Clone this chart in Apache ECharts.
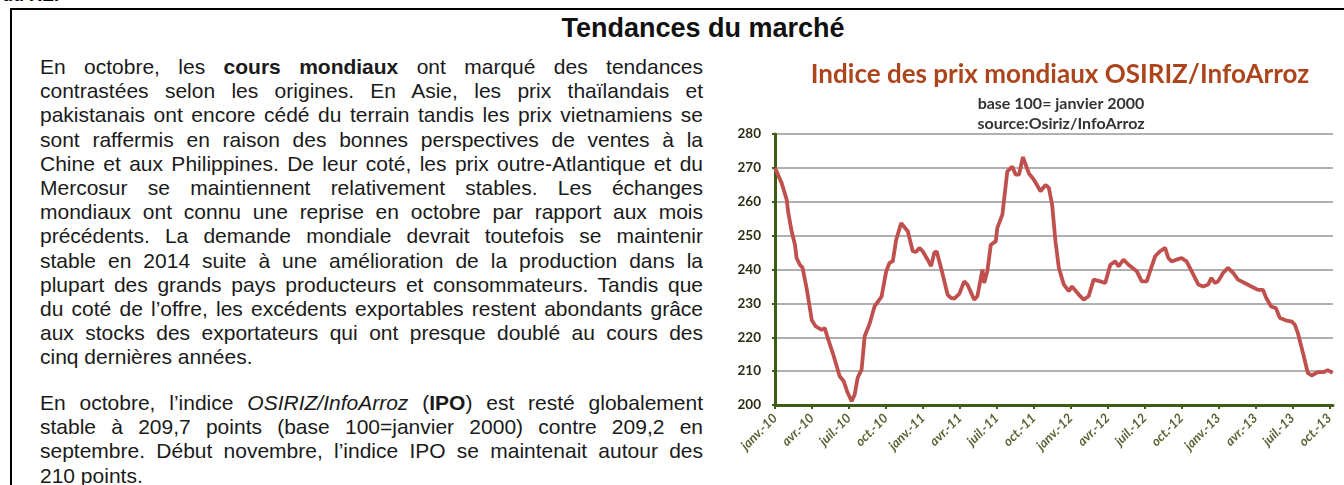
<!DOCTYPE html>
<html lang="fr">
<head>
<meta charset="utf-8">
<script src="https://cdn.jsdelivr.net/npm/echarts@6/dist/echarts.min.js"></script>
<style>
  html, body { margin:0; padding:0; background:#fff; }
  body { width:1344px; height:485px; overflow:hidden; position:relative; font-family:"Liberation Sans", Arial, sans-serif; }
  #frame { position:absolute; left:10px; top:8px; width:1400px; height:600px; border-top:2px solid #000; border-left:2px solid #000; }
  #cut { position:absolute; left:2px; top:-15px; font:bold 18px "Liberation Sans", Arial, sans-serif; color:#000; }
  #head { position:absolute; left:403px; width:600px; top:13px; text-align:center; font:bold 27px "Liberation Sans", Arial, sans-serif; color:#111; }
  .txt { position:absolute; left:40px; width:663px; font-size:21px; color:#1a1a1a; line-height:24.2px; }
  .txt div { white-space:nowrap; text-align:justify; text-align-last:justify; }
  .txt div.last { text-align:left; text-align-last:left; }
  #p1 { top:55px; }
  #p2 { top:391px; }
  #chart { position:absolute; left:720px; top:0; width:624px; height:485px; }
</style>
</head>
<body>
<div id="frame"></div>
<div id="cut">du RE.</div>
<div id="head">Tendances du marché</div>
<div class="txt" id="p1">
  <div>En octobre, les <b>cours mondiaux</b> ont marqué des tendances</div>
  <div>contrastées selon les origines. En Asie, les prix thaïlandais et</div>
  <div>pakistanais ont encore cédé du terrain tandis les prix vietnamiens se</div>
  <div>sont raffermis en raison des bonnes perspectives de ventes à la</div>
  <div>Chine et aux Philippines. De leur coté, les prix outre-Atlantique et du</div>
  <div>Mercosur se maintiennent relativement stables. Les échanges</div>
  <div>mondiaux ont connu une reprise en octobre par rapport aux mois</div>
  <div>précédents. La demande mondiale devrait toutefois se maintenir</div>
  <div>stable en 2014 suite à une amélioration de la production dans la</div>
  <div>plupart des grands pays producteurs et consommateurs. Tandis que</div>
  <div>du coté de l’offre, les excédents exportables restent abondants grâce</div>
  <div>aux stocks des exportateurs qui ont presque doublé au cours des</div>
  <div class="last">cinq dernières années.</div>
</div>
<div class="txt" id="p2">
  <div>En octobre, l’indice <i>OSIRIZ/InfoArroz</i> (<b>IPO</b>) est resté globalement</div>
  <div>stable à 209,7 points (base 100=janvier 2000) contre 209,2 en</div>
  <div>septembre. Début novembre, l’indice IPO se maintenait autour des</div>
  <div class="last">210 points.</div>
</div>
<div id="chart"></div>
<script>
// Month offsets from janv. 2010 (0) and index values
const months = [0,0.54,0.95,1.08,1.35,1.62,1.75,2.02,2.24,2.56,2.99,3.31,3.80,4.04,4.28,4.77,5.25,5.58,5.90,6.22,6.47,6.71,7.03,7.28,7.68,8.08,8.65,9.03,9.30,9.56,9.84,10.24,10.37,10.78,11.18,11.46,11.72,11.99,12.39,12.67,12.93,13.12,13.48,14.01,14.28,14.55,14.96,15.36,15.63,16.17,16.43,16.84,16.98,17.24,17.52,17.92,18.05,18.46,18.86,19.26,19.54,19.81,20.13,20.62,21.02,21.56,21.96,22.23,22.50,22.77,23.04,23.44,23.85,24.11,24.66,25.06,25.46,25.87,26.41,26.81,27.22,27.62,27.89,28.29,28.70,29.37,29.77,30.18,30.45,30.86,31.26,31.67,31.93,32.20,32.60,33.01,33.41,33.82,34.36,34.76,35.17,35.43,35.71,35.97,36.38,36.78,37.19,37.59,38.13,38.67,39.21,39.61,39.88,40.28,40.66,40.99,41.47,41.96,42.20,42.44,42.93,43.25,43.57,44.06,44.55,44.87,45.27];
const values = [270,265.5,260.6,256.7,251.3,247.3,243.4,241.4,240.5,234.6,225,223.2,222.2,222.7,219.8,214.4,208.5,207,203.6,201.1,203.1,208,210.5,220.3,224,229.1,232,239.5,242,242.4,248.8,253.7,254.2,251.3,245.4,245.2,246.4,245.4,242.9,241,244.9,245.4,240.5,232.6,231.6,231.4,232.8,236.5,235.5,231.1,232.1,240,236,239.5,247.3,248.3,252.3,256.2,269,270.4,268,268,273.2,268.3,266.5,263.1,265,264.1,259.1,248.3,240.5,235.6,233.6,235,232.6,231.1,232.1,237,236.5,236,241.4,242.4,240.9,242.9,241.4,239.5,236.5,236.5,239.5,243.9,245.4,246.4,243.4,242.4,242.9,243.4,242.4,239.5,235.6,235,235.6,237.5,236,236.5,239,240.5,239,237,236,235,234,234,231.6,229.1,228.6,225.7,225,224.6,223.7,221.3,214.4,209.5,208.7,209.7,209.7,210.3,209.5];
const tickLabels = ['janv.-10','avr.-10','juil.-10','oct.-10','janv.-11','avr.-11','juil.-11','oct.-11','janv.-12','avr.-12','juil.-12','oct.-12','janv.-13','avr.-13','juil.-13','oct.-13'];
const chartTitle = 'Indice des prix mondiaux OSIRIZ/InfoArroz';
const subLines = ['base 100= janvier 2000', 'source:Osiriz/InfoArroz'];

const data = months.map((m, i) => [m, values[i]]);
const axisGreen = '#3f5c16';
const chart = echarts.init(document.getElementById('chart'), null, {renderer:'canvas'});
chart.setOption({
  animation:false,
  title:[
    {text:chartTitle, left:335, top:57, textAlign:'center',
     textStyle:{fontFamily:'Lato', fontWeight:'bold', fontSize:26, color:'#ad451c'}},
    {text:subLines[0], left:336, top:91, textAlign:'center',
     textStyle:{fontFamily:'Lato', fontWeight:'bold', fontSize:16, color:'#333'}},
    {text:subLines[1], left:336, top:111, textAlign:'center',
     textStyle:{fontFamily:'Lato', fontWeight:'bold', fontSize:16, color:'#333'}}
  ],
  grid:{left:55, right:11, top:134, bottom:80},
  xAxis:{
    type:'value', min:0, max:45.3, interval:3,
    axisLine:{onZero:false, lineStyle:{color:axisGreen, width:3}},
    axisTick:{show:true, length:4, lineStyle:{color:axisGreen, width:2}},
    splitLine:{show:false},
    axisLabel:{
      rotate:45, margin:11, fontFamily:'Lato', fontWeight:'bold', fontStyle:'italic', fontSize:13, color:'#5a6233',
      showMaxLabel:false,
      formatter:function(v){
        const k = Math.round(v/3);
        return Math.abs(v - k*3) < 1e-6 && tickLabels[k] ? tickLabels[k] : '';
      }
    }
  },
  yAxis:{
    type:'value', min:200, max:280, interval:10,
    axisLine:{show:true, lineStyle:{color:axisGreen, width:3}},
    axisTick:{show:true, length:3, lineStyle:{color:axisGreen, width:2}},
    splitLine:{lineStyle:{color:'#b0b0b0', width:2}},
    axisLabel:{margin:14, fontFamily:'Lato', fontWeight:'bold', fontSize:13.5, color:'#2e2e14'}
  },
  series:[{
    type:'line', data:data, showSymbol:false, smooth:false,
    lineStyle:{color:'#c0504d', width:3.8}, z:3
  }]
});
</script>
</body>
</html>
